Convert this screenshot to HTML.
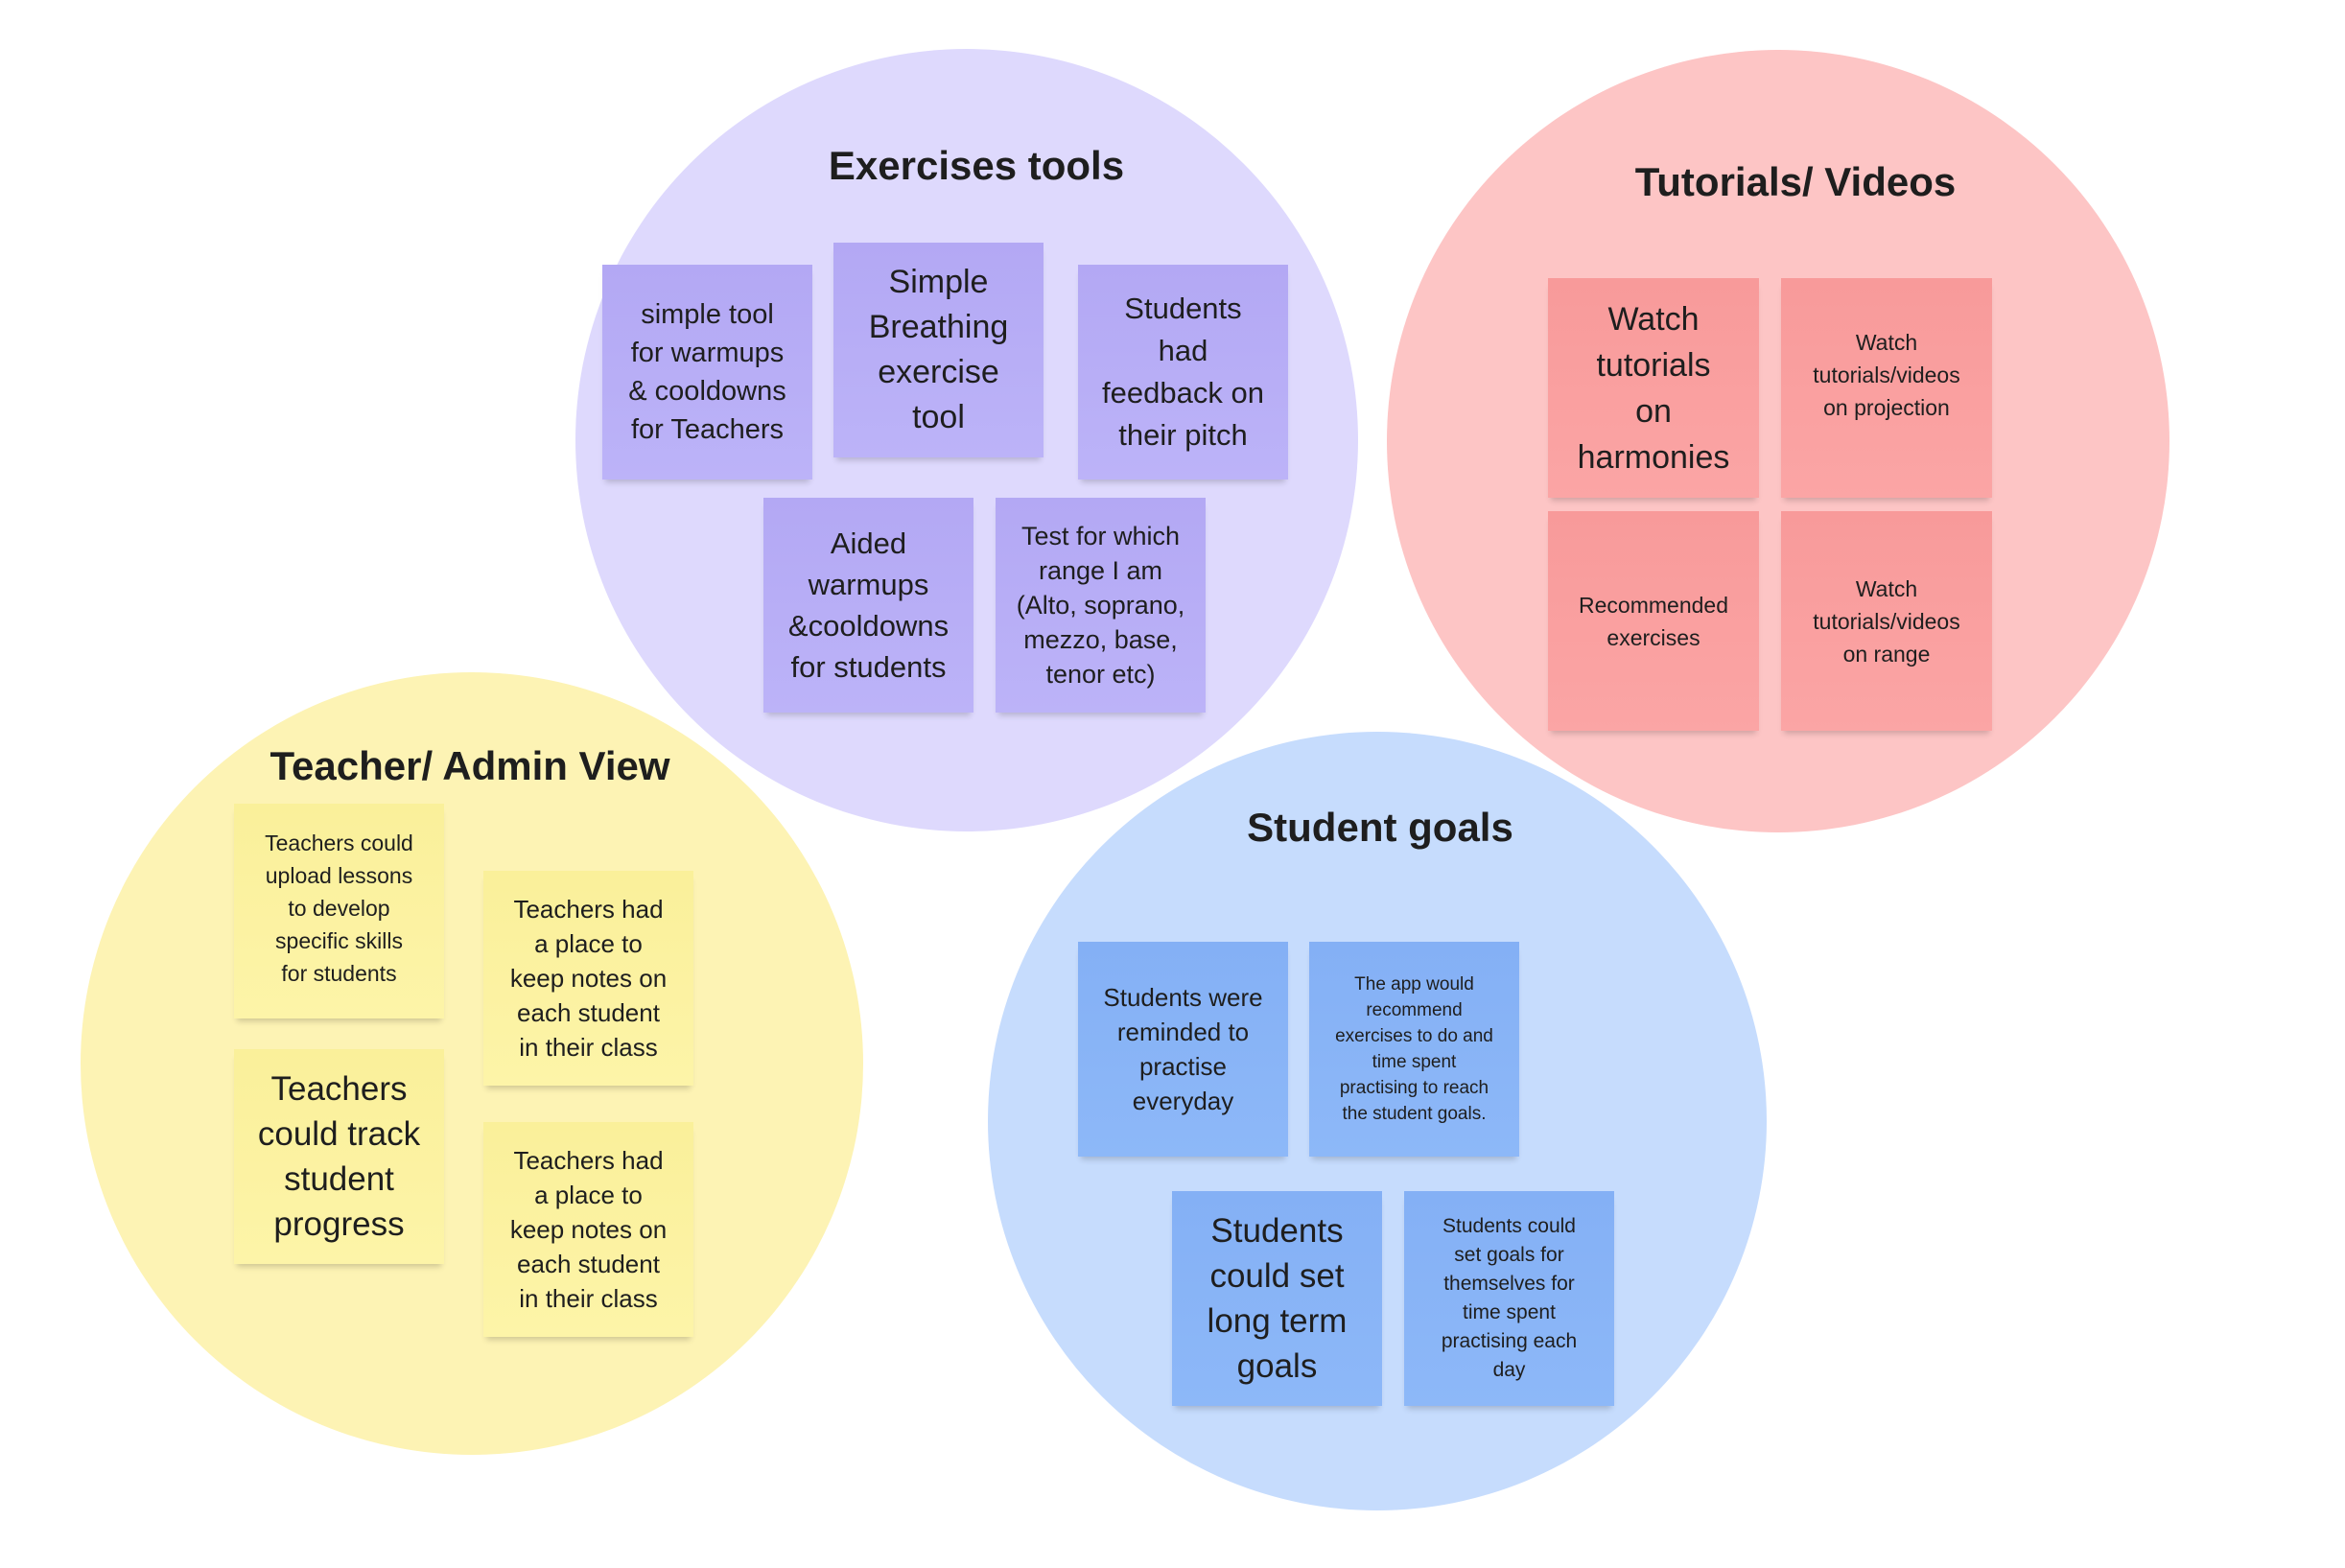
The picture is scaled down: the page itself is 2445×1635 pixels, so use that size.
<!DOCTYPE html>
<html><head><meta charset="utf-8"><style>
body{margin:0;width:2445px;height:1635px;background:#fff;position:relative;overflow:hidden;font-family:"Liberation Sans","DejaVu Sans",sans-serif;color:#1e1e1e}
.c{position:absolute;border-radius:50%}
.t{position:absolute;font-weight:bold;font-size:42px;transform:translateX(-50%);white-space:nowrap;line-height:1}
.s{position:absolute;width:219px;height:224px;display:flex;align-items:center;justify-content:center;text-align:center;box-shadow:0 6px 6px -3px rgba(0,0,0,0.18);box-sizing:border-box;padding:6px 10px}
.p{background:linear-gradient(#b3a8f4,#bcb3f8)}
.r{background:linear-gradient(#f89a9a,#fba5a5)}
.y{background:linear-gradient(#faf09a,#fdf4a8)}
.b{background:linear-gradient(#84b0f5,#8db8f8)}
</style></head><body>
<div class="c" style="left:600px;top:51px;width:816px;height:816px;background:#ded9fd"></div>
<div class="c" style="left:1446px;top:52px;width:816px;height:816px;background:#fdc5c5"></div>
<div class="c" style="left:84px;top:701px;width:816px;height:816px;background:#fdf3b4"></div>
<div class="c" style="left:1030px;top:763px;width:812px;height:812px;background:#c6dcfd"></div>

<div class="t" style="left:1018px;top:152px">Exercises tools</div>
<div class="t" style="left:1872px;top:169px">Tutorials/ Videos</div>
<div class="t" style="left:490px;top:778px">Teacher/ Admin View</div>
<div class="t" style="left:1439px;top:842px">Student goals</div>

<div class="s p" style="left:628px;top:276px;font-size:29px;line-height:40px">simple tool<br>for warmups<br>&amp; cooldowns<br>for Teachers</div>
<div class="s p" style="left:869px;top:253px;font-size:34px;line-height:47px">Simple<br>Breathing<br>exercise<br>tool</div>
<div class="s p" style="left:1124px;top:276px;font-size:31px;line-height:44px">Students<br>had<br>feedback on<br>their pitch</div>
<div class="s p" style="left:796px;top:519px;font-size:31px;line-height:43px">Aided<br>warmups<br>&amp;cooldowns<br>for students</div>
<div class="s p" style="left:1038px;top:519px;font-size:27px;line-height:36px">Test for which<br>range I am<br>(Alto, soprano,<br>mezzo, base,<br>tenor etc)</div>

<div class="s r" style="left:1614px;top:290px;height:229px;width:220px;font-size:34px;line-height:48px">Watch<br>tutorials<br>on<br>harmonies</div>
<div class="s r" style="left:1857px;top:290px;height:229px;width:220px;font-size:23px;line-height:34px;align-items:flex-start;padding-top:50px">Watch<br>tutorials/videos<br>on projection</div>
<div class="s r" style="left:1614px;top:533px;height:229px;width:220px;font-size:23px;line-height:34px">Recommended<br>exercises</div>
<div class="s r" style="left:1857px;top:533px;height:229px;width:220px;font-size:23px;line-height:34px">Watch<br>tutorials/videos<br>on range</div>

<div class="s y" style="left:244px;top:838px;font-size:23px;line-height:34px;align-items:flex-start;padding-top:24px">Teachers could<br>upload lessons<br>to develop<br>specific skills<br>for students</div>
<div class="s y" style="left:504px;top:908px;font-size:26px;line-height:36px">Teachers had<br>a place to<br>keep notes on<br>each student<br>in their class</div>
<div class="s y" style="left:244px;top:1094px;font-size:35px;line-height:47px">Teachers<br>could track<br>student<br>progress</div>
<div class="s y" style="left:504px;top:1170px;font-size:26px;line-height:36px">Teachers had<br>a place to<br>keep notes on<br>each student<br>in their class</div>

<div class="s b" style="left:1124px;top:982px;font-size:26px;line-height:36px">Students were<br>reminded to<br>practise<br>everyday</div>
<div class="s b" style="left:1365px;top:982px;font-size:19px;line-height:27px">The app would<br>recommend<br>exercises to do and<br>time spent<br>practising to reach<br>the student goals.</div>
<div class="s b" style="left:1222px;top:1242px;font-size:35px;line-height:47px">Students<br>could set<br>long term<br>goals</div>
<div class="s b" style="left:1464px;top:1242px;font-size:21px;line-height:30px">Students could<br>set goals for<br>themselves for<br>time spent<br>practising each<br>day</div>
</body></html>
